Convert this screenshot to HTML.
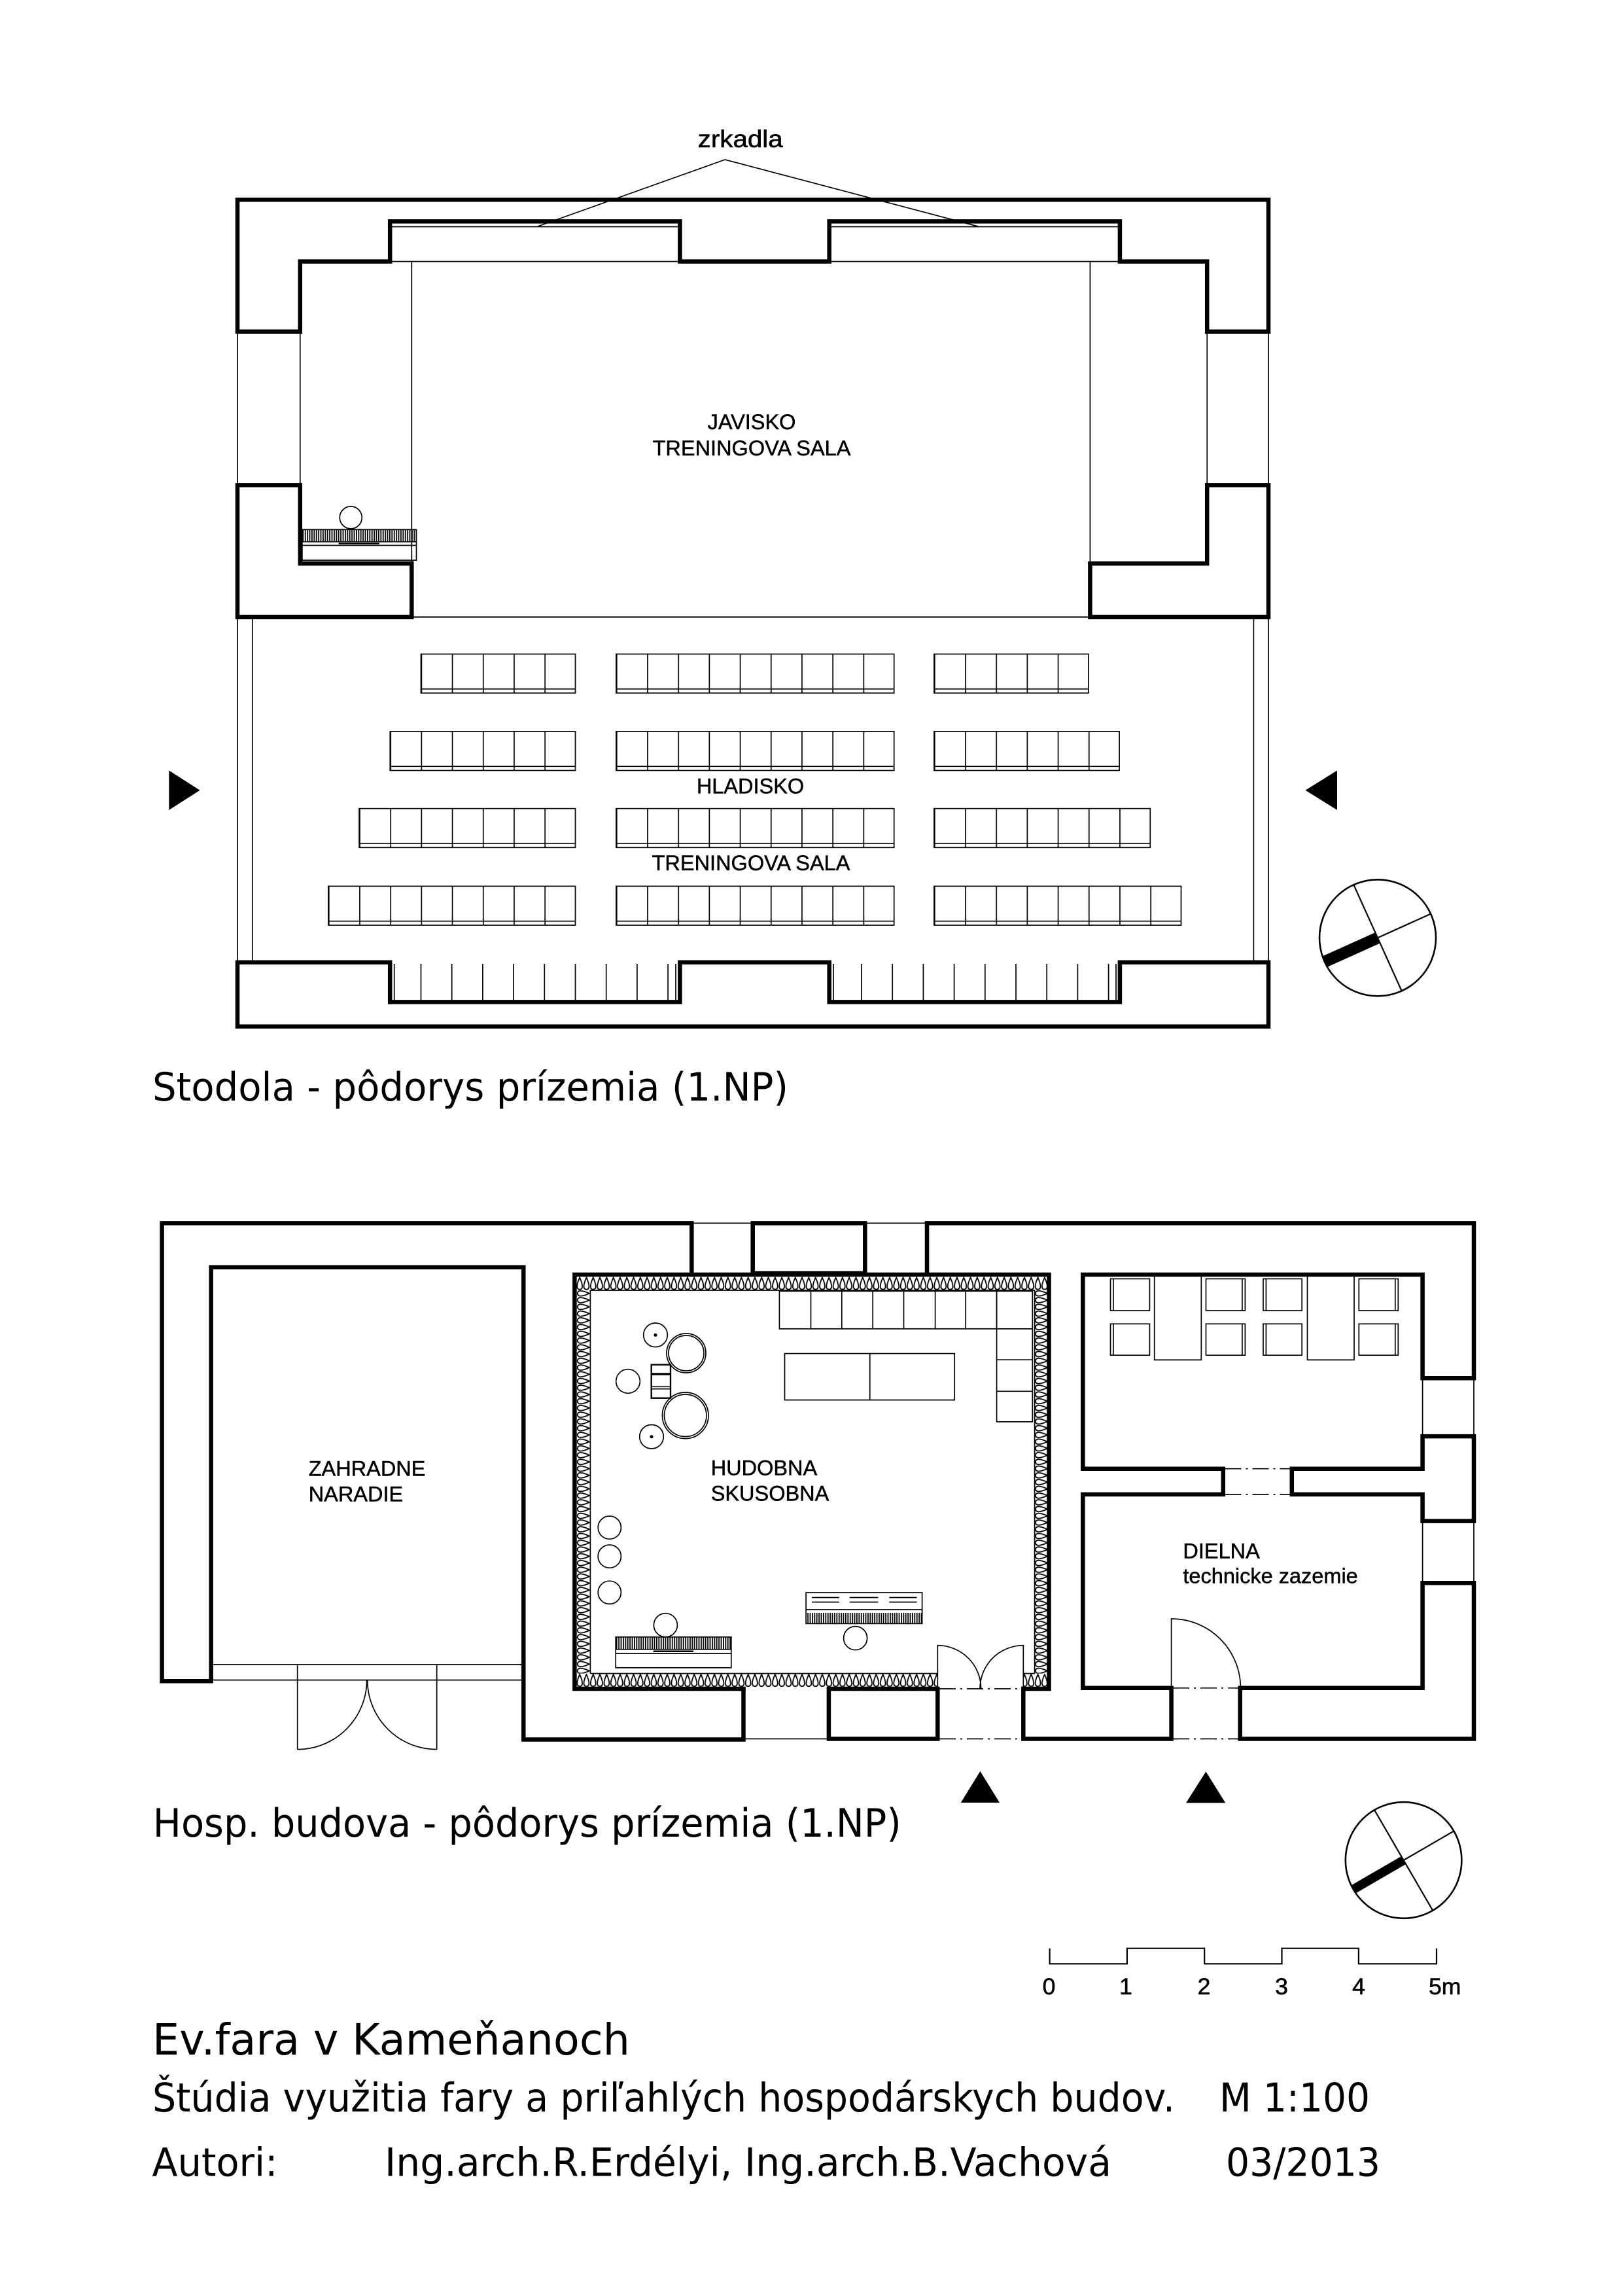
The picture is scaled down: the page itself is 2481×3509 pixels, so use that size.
<!DOCTYPE html>
<html><head><meta charset="utf-8"><style>
html,body{margin:0;padding:0;background:#fff;}
svg{display:block;}
</style></head><body>
<svg xmlns="http://www.w3.org/2000/svg" width="2481" height="3509" viewBox="0 0 2481 3509">
<defs>
<pattern id="seat" width="47.2" height="59.6" patternUnits="userSpaceOnUse">
<rect x="0" y="0" width="1.7" height="59.6" fill="#000"/>
<rect x="0" y="52.6" width="47.2" height="1.6" fill="#000"/>
</pattern>
<pattern id="keys" width="3.4" height="10" patternUnits="userSpaceOnUse">
<rect x="0" y="0" width="1.8" height="10" fill="#000"/>
</pattern>
<pattern id="hatchT" width="10.3" height="21" patternUnits="userSpaceOnUse" patternTransform="translate(881,1951)">
<path d="M5.15,1.5 C2.2,8 0.6,13.5 1.4,16.8 C2.6,20.6 7.7,20.6 8.9,16.8 C9.7,13.5 8.1,8 5.15,1.5 Z" fill="none" stroke="#000" stroke-width="1.8"/>
</pattern>
<pattern id="hatchB" width="10.3" height="21" patternUnits="userSpaceOnUse" patternTransform="translate(881,2557.6)">
<path d="M5.15,1.5 C2.2,8 0.6,13.5 1.4,16.8 C2.6,20.6 7.7,20.6 8.9,16.8 C9.7,13.5 8.1,8 5.15,1.5 Z" fill="none" stroke="#000" stroke-width="1.8"/>
</pattern>
<pattern id="hatchL" width="10.3" height="21" patternUnits="userSpaceOnUse" patternTransform="translate(902.4,1951) rotate(90)">
<path d="M5.15,1.5 C2.2,8 0.6,13.5 1.4,16.8 C2.6,20.6 7.7,20.6 8.9,16.8 C9.7,13.5 8.1,8 5.15,1.5 Z" fill="none" stroke="#000" stroke-width="1.8"/>
</pattern>
<pattern id="hatchR" width="10.3" height="21" patternUnits="userSpaceOnUse" patternTransform="translate(1602.6,1951) rotate(90)">
<path d="M5.15,1.5 C2.2,8 0.6,13.5 1.4,16.8 C2.6,20.6 7.7,20.6 8.9,16.8 C9.7,13.5 8.1,8 5.15,1.5 Z" fill="none" stroke="#000" stroke-width="1.8"/>
</pattern>
<clipPath id="c1"><circle cx="2106" cy="1433.3" r="88"/></clipPath>
<clipPath id="c2"><circle cx="2145.6" cy="2843" r="88"/></clipPath>
</defs>
<rect x="0" y="0" width="2481" height="3509" fill="#fff"/>

<!-- ================= STODOLA ================= -->
<g fill="none" stroke="#000" stroke-width="6.5" stroke-linejoin="miter" stroke-linecap="square">
<path d="M363,506.7 L363,305.2 L1939,305.2 L1939,506.7 L1845.2,506.7 L1845.2,399.6 L1711.9,399.6 L1711.9,338.4 L1267.7,338.4 L1267.7,399.6 L1039.4,399.6 L1039.4,338.4 L596.2,338.4 L596.2,399.6 L458.8,399.6 L458.8,506.7 Z"/>
<path d="M363,741.4 L458.8,741.4 L458.8,861.3 L629.3,861.3 L629.3,943 L363,943 Z"/>
<path d="M1939,741.4 L1845.2,741.4 L1845.2,861.3 L1666.4,861.3 L1666.4,943 L1939,943 Z"/>
<path d="M363,1470.8 L596.2,1470.8 L596.2,1531.4 L1039.4,1531.4 L1039.4,1470.8 L1267.7,1470.8 L1267.7,1531.4 L1711.9,1531.4 L1711.9,1470.8 L1939,1470.8 L1939,1568.7 L363,1568.7 Z"/>
</g>
<g fill="none" stroke="#000" stroke-width="1.7">
<path d="M599,346.5 H1036.6 M1270.5,346.5 H1709.1"/>
<path d="M596.2,399.6 H1039.4 M1267.7,399.6 H1711.9"/>
<path d="M629.3,399.6 V861.3 M1666.4,399.6 V861.3 M629.3,943 H1666.4"/>
<path d="M363,506.7 V741.4 M458.8,506.7 V741.4 M1845.2,506.7 V741.4 M1939,506.7 V741.4"/>
<path d="M363,943 V1470.8 M385.8,943 V1470.8 M1916.4,943 V1470.8 M1939,943 V1470.8"/>
<path d="M602.7,1473 V1528 M643.5,1473 V1528 M690.7,1473 V1528 M737.9,1473 V1528 M785.1,1473 V1528 M832.3,1473 V1528 M879.5,1473 V1528 M926.7,1473 V1528 M973.9,1473 V1528 M1021.1,1473 V1528 M1033,1473 V1528"/>
<path d="M1274,1473 V1528 M1317,1473 V1528 M1364.2,1473 V1528 M1411.4,1473 V1528 M1458.6,1473 V1528 M1505.8,1473 V1528 M1553,1473 V1528 M1600.2,1473 V1528 M1647.4,1473 V1528 M1694.6,1473 V1528 M1706,1473 V1528"/>
<path d="M822,346 L1108.3,244 L1495,346"/>
<rect x="461.9" y="809.3" width="174.6" height="46.9"/>
<path d="M461.9,828 H636.5 M461.9,833.5 H636.5"/>
<circle cx="536.3" cy="791" r="17"/>
</g>
<rect x="461.9" y="809.3" width="174.6" height="17.7" fill="url(#keys)"/>
<path d="M517.7,830.8 H579.7" stroke="#000" stroke-width="2.5"/>

<g stroke="#000" stroke-width="1.7" fill="url(#seat)">
<rect x="0" y="0" width="236" height="59.6" transform="translate(643.5,999.6)"/>
<rect x="0" y="0" width="424.8" height="59.6" transform="translate(941.9,999.6)"/>
<rect x="0" y="0" width="236" height="59.6" transform="translate(1427.9,999.6)"/>
<rect x="0" y="0" width="283.2" height="59.6" transform="translate(596.3,1117.9)"/>
<rect x="0" y="0" width="424.8" height="59.6" transform="translate(941.9,1117.9)"/>
<rect x="0" y="0" width="283.2" height="59.6" transform="translate(1427.9,1117.9)"/>
<rect x="0" y="0" width="330.4" height="59.6" transform="translate(549.1,1235.7)"/>
<rect x="0" y="0" width="424.8" height="59.6" transform="translate(941.9,1235.7)"/>
<rect x="0" y="0" width="330.4" height="59.6" transform="translate(1427.9,1235.7)"/>
<rect x="0" y="0" width="377.6" height="59.6" transform="translate(501.9,1354.4)"/>
<rect x="0" y="0" width="424.8" height="59.6" transform="translate(941.9,1354.4)"/>
<rect x="0" y="0" width="377.6" height="59.6" transform="translate(1427.9,1354.4)"/>
</g>

<polygon points="258.3,1177.5 305.5,1207.7 258.3,1238" fill="#000"/>
<polygon points="2044,1177.5 1995.5,1207.7 2044,1238" fill="#000"/>

<g fill="none" stroke="#000">
<circle cx="2106" cy="1433.3" r="89" stroke-width="2.6"/>
<path d="M2069.3,1352.2 L2142.7,1514.4 M2106,1433.3 L2187.1,1396.6" stroke-width="2.2"/>
<path d="M2106,1433.3 L2020,1472" stroke-width="18" clip-path="url(#c1)"/>
</g>

<g font-family="'Liberation Sans', Arial, sans-serif" font-size="32.5" fill="#000" stroke="#000" stroke-width="0.5" text-anchor="middle">
<text x="1149" y="656">JAVISKO</text>
<text x="1149" y="696">TRENINGOVA SALA</text>
<text x="1147" y="1212.4">HLADISKO</text>
<text x="1148" y="1330.2">TRENINGOVA SALA</text>
</g>
<text x="1066.7" y="225" font-family="'Liberation Sans', Arial, sans-serif" font-size="37" textLength="130" lengthAdjust="spacingAndGlyphs" fill="#000" stroke="#000" stroke-width="0.6">zrkadla</text>

<text x="233" y="1682" font-family="'DejaVu Sans', Verdana, sans-serif" font-size="60" textLength="972" lengthAdjust="spacingAndGlyphs" fill="#000">Stodola - pôdorys prízemia (1.NP)</text>

<!-- ================= HOSP. BUDOVA ================= -->
<rect x="881" y="1950.7" width="719.8" height="21.3" fill="url(#hatchT)"/>
<rect x="881" y="2557.6" width="552.3" height="20.7" fill="url(#hatchB)"/>
<rect x="1564.3" y="2557.6" width="36.4" height="20.7" fill="url(#hatchB)"/>
<rect x="881.4" y="1972" width="21" height="585.6" fill="url(#hatchL)"/>
<rect x="1581.6" y="1972" width="21" height="585.6" fill="url(#hatchR)"/>

<g fill="none" stroke="#000" stroke-width="6.5" stroke-linejoin="miter" stroke-linecap="square">
<path d="M322.7,2569.3 L247.6,2569.3 L247.6,1869.4 L1057.3,1869.4 L1057.3,1948"/>
<path d="M322.7,2569.3 L322.7,1936.8 L800.3,1936.8 L800.3,2658.5 L1136.5,2658.5 L1136.5,2581"/>
<path d="M1417,1947.3 L1417,1869.4 L2253,1869.4 L2253,2106.3 L2174.6,2106.3 L2174.6,1948 L1655.3,1948 L1655.3,2244.7 L1869.8,2244.7 L1869.8,2283.9 L1655.3,2283.9 L1655.3,2579.8 L1790.6,2579.8 L1790.6,2657.5 L1564.3,2657.5 L1564.3,2581 L1603.5,2581 L1603.5,1948 L878.4,1948 L878.4,2581 L1136.5,2581"/>
<path d="M2253,2195.1 L2174.6,2195.1 L2174.6,2244.7 L1974.8,2244.7 L1974.8,2283.9 L2174.6,2283.9 L2174.6,2324.6 L2253,2324.6 Z"/>
<path d="M2253,2419.3 L2174.6,2419.3 L2174.6,2579.8 L1895.7,2579.8 L1895.7,2657.5 L2253,2657.5 Z"/>
<rect x="1150.7" y="1869.4" width="171.6" height="76.6"/>
<rect x="1266.9" y="2581" width="166.4" height="76.5"/>
</g>

<g fill="none" stroke="#000" stroke-width="1.7">
<path d="M902.4,2557.6 V1972 H1581.6 V2557.6 M902.4,2557.6 H1433.3 M1564.3,2557.6 H1581.6"/>
<path d="M322.7,2544 H800.3 M322.7,2567.6 H800.3"/>
<path d="M454.7,2544 V2673.6 M667.7,2544 V2673.6"/>
<path d="M454.7,2673.6 A106,106 0 0 0 560.7,2567.6 M667.7,2673.6 A106,106 0 0 1 561.7,2567.6"/>
<path d="M1057.3,1869.4 H1150.7 M1322.3,1869.4 H1417 M1136.5,2657.5 H1266.9"/>
<path d="M2174.6,2106.3 V2195.1 M2253,2106.3 V2195.1 M2174.6,2324.6 V2419.3 M2253,2324.6 V2419.3"/>
<path d="M1433.3,2581 V2514.7 A66.3,66.3 0 0 1 1499.6,2581 M1564.3,2581 V2514.7 A66.3,66.3 0 0 0 1498,2581"/>
<path d="M1790.6,2579.8 V2474 A105.8,105.8 0 0 1 1896.4,2579.8"/>
</g>
<g fill="none" stroke="#000" stroke-width="1.7" stroke-dasharray="25 7 3 7">
<path d="M1436,2581 H1562 M1436,2657.5 H1562"/>
<path d="M1793,2579.8 H1894 M1793,2657.5 H1894"/>
<path d="M1872.5,2244.7 H1972.5 M1872.5,2283.9 H1972.5"/>
</g>

<g fill="none" stroke="#000" stroke-width="1.7">
<rect x="1191.4" y="1973.2" width="332.2" height="57.7"/>
<path d="M1239.5,1973.2 V2030.9 M1286.8,1973.2 V2030.9 M1334.2,1973.2 V2030.9 M1381.5,1973.2 V2030.9 M1429.6,1973.2 V2030.9 M1476.2,1973.2 V2030.9"/>
<rect x="1523.6" y="1973.2" width="54.7" height="199.7"/>
<path d="M1523.6,2030.9 H1578.3 M1523.6,2078.2 H1578.3 M1523.6,2126.3 H1578.3"/>
<rect x="1199.5" y="2068.6" width="259.7" height="71"/>
<path d="M1329.7,2068.6 V2139.6"/>
<rect x="1232.1" y="2434" width="177.5" height="47.4"/>
<path d="M1232.1,2460 H1409.6"/>
<path d="M1241,2441.5 H1283 M1241,2448.5 H1283 M1298.7,2441.5 H1342.3 M1298.7,2448.5 H1342.3 M1359.3,2441.5 H1401.5 M1359.3,2448.5 H1401.5"/>
<circle cx="1307.6" cy="2503.6" r="18"/>
<rect x="941.2" y="2501.9" width="176.6" height="46.9"/>
<path d="M941.2,2520.7 H1117.8 M941.2,2527 H1117.8"/>
<circle cx="1017.4" cy="2483.7" r="18"/>
<circle cx="931.8" cy="2334.6" r="17.6"/>
<circle cx="931.8" cy="2378.6" r="17.6"/>
<circle cx="931.8" cy="2433.8" r="17.6"/>
<circle cx="1002" cy="2040.3" r="18.3"/>
<circle cx="1049" cy="2068" r="30"/>
<circle cx="1049" cy="2068" r="27"/>
<circle cx="960" cy="2111" r="18.3"/>
<rect x="995.7" y="2085.7" width="29.3" height="51" stroke-width="2.4"/>
<path d="M995.7,2119.3 H1025 M995.7,2122.7 H1025"/>
<circle cx="1047.7" cy="2163.3" r="35.3"/>
<circle cx="1047.7" cy="2163.3" r="32.2"/>
<circle cx="996" cy="2195.7" r="18.3"/>
</g>
<path d="M995.7,2100 H1025" stroke="#000" stroke-width="3.5"/>
<path d="M998.6,2523.8 H1060" stroke="#000" stroke-width="2.5"/>
<circle cx="1002" cy="2040.3" r="2.6" fill="#000"/>
<circle cx="996" cy="2195.7" r="2.6" fill="#000"/>
<rect x="1232.1" y="2465" width="177.5" height="16.4" fill="url(#keys)"/>
<rect x="941.2" y="2501.9" width="176.6" height="18.8" fill="url(#keys)"/>

<g fill="none" stroke="#000" stroke-width="1.7">
<rect x="1697.5" y="1954.4" width="59.9" height="48.6"/><path d="M1701.9,1954.4 V2003"/>
<rect x="1843.5" y="1954.4" width="59.9" height="48.6"/><path d="M1898.9,1954.4 V2003"/>
<rect x="1931" y="1954.4" width="59.2" height="48.6"/><path d="M1935.4,1954.4 V2003"/>
<rect x="2077.3" y="1954.4" width="60" height="48.6"/><path d="M2132.8,1954.4 V2003"/>
<rect x="1697.5" y="2023.3" width="59.9" height="47.9"/><path d="M1701.9,2023.3 V2071.2"/>
<rect x="1843.5" y="2023.3" width="59.9" height="47.9"/><path d="M1898.9,2023.3 V2071.2"/>
<rect x="1931" y="2023.3" width="59.2" height="47.9"/><path d="M1935.4,2023.3 V2071.2"/>
<rect x="2077.3" y="2023.3" width="60" height="47.9"/><path d="M2132.8,2023.3 V2071.2"/>
<path d="M1764.7,1950.7 V2078.4 H1836.3 V1950.7"/>
<path d="M1998.5,1950.7 V2078.4 H2070 V1950.7"/>
</g>

<polygon points="1468.8,2755 1498.4,2707 1528,2755" fill="#000"/>
<polygon points="1813,2755.4 1843.4,2707.6 1873.3,2755.4" fill="#000"/>

<g fill="none" stroke="#000">
<circle cx="2145.6" cy="2843" r="88.8" stroke-width="2.6"/>
<path d="M2100.9,2766 L2190.3,2920 M2145.6,2843 L2222.6,2798.3" stroke-width="2.2"/>
<path d="M2145.6,2843 L2064,2890.3" stroke-width="14" clip-path="url(#c2)"/>
</g>

<path d="M1604.6,2977.7 L1604.6,3001.3 L1722.9,3001.3 L1722.9,2977.7 L1841.2,2977.7 L1841.2,3001.3 L1959.5,3001.3 L1959.5,2977.7 L2076.9,2977.7 L2076.9,3001.3 L2196,3001.3 L2196,2977.7" fill="none" stroke="#000" stroke-width="2.2"/>
<g font-family="'Liberation Sans', Arial, sans-serif" font-size="35.6" fill="#000" stroke="#000" stroke-width="0.6" text-anchor="middle">
<text x="1603.5" y="3047.8">0</text>
<text x="1721" y="3047.8">1</text>
<text x="1840.5" y="3047.8">2</text>
<text x="1959" y="3047.8">3</text>
<text x="2077" y="3047.8">4</text>
</g>
<text x="2184" y="3047.8" font-family="'Liberation Sans', Arial, sans-serif" font-size="35.6" fill="#000" stroke="#000" stroke-width="0.6">5m</text>

<g font-family="'Liberation Sans', Arial, sans-serif" font-size="32.5" fill="#000" stroke="#000" stroke-width="0.5">
<text x="471.7" y="2255.4">ZAHRADNE</text>
<text x="471.7" y="2294.7">NARADIE</text>
<text x="1086.7" y="2254.3">HUDOBNA</text>
<text x="1086.7" y="2293.5">SKUSOBNA</text>
<text x="1808.4" y="2381.5">DIELNA</text>
<text x="1808.4" y="2419.5">technicke zazemie</text>
</g>

<g font-family="'DejaVu Sans', Verdana, sans-serif" fill="#000">
<text x="233.8" y="2807" font-size="60" textLength="1144" lengthAdjust="spacingAndGlyphs">Hosp. budova - pôdorys prízemia (1.NP)</text>
<text x="233" y="3140" font-size="66" textLength="730" lengthAdjust="spacingAndGlyphs">Ev.fara v Kameňanoch</text>
<text x="233" y="3227" font-size="61" textLength="1563" lengthAdjust="spacingAndGlyphs">Štúdia využitia fary a priľahlých hospodárskych budov.</text>
<text x="1864" y="3227" font-size="61" textLength="230" lengthAdjust="spacingAndGlyphs">M 1:100</text>
<text x="232.4" y="3325.5" font-size="60" textLength="192" lengthAdjust="spacingAndGlyphs">Autori:</text>
<text x="588" y="3325.5" font-size="60" textLength="1111" lengthAdjust="spacingAndGlyphs">Ing.arch.R.Erdélyi, Ing.arch.B.Vachová</text>
<text x="1874" y="3325.5" font-size="60" textLength="236" lengthAdjust="spacingAndGlyphs">03/2013</text>
</g>
</svg>
</body></html>
